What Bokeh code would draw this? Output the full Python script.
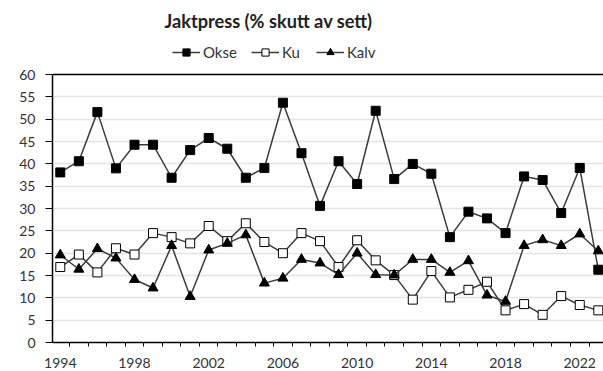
from bokeh.plotting import figure
from bokeh.models import Range1d, FixedTicker, Legend, LegendItem, Label, Span
from bokeh.embed import file_html
from bokeh.resources import INLINE

years = list(range(1994, 2024))
okse = [38.1, 40.6, 51.6, 39.0, 44.3, 44.3, 36.9, 43.1, 45.8, 43.4,
        36.9, 39.1, 53.7, 42.4, 30.6, 40.6, 35.5, 51.9, 36.6, 40.0,
        37.8, 23.6, 29.3, 27.8, 24.5, 37.2, 36.4, 29.0, 39.1, 16.3]
ku = [16.9, 19.7, 15.7, 21.1, 19.7, 24.5, 23.6, 22.2, 26.1, 22.7,
      26.7, 22.5, 20.0, 24.5, 22.7, 16.9, 22.9, 18.4, 15.1, 9.6,
      16.0, 10.1, 11.8, 13.6, 7.2, 8.6, 6.2, 10.4, 8.4, 7.2]
kalv = [19.6, 16.4, 21.0, 18.9, 14.1, 12.2, 21.7, 10.3, 20.7, 22.2,
        24.1, 13.3, 14.4, 18.6, 17.8, 15.2, 20.0, 15.2, 15.1, 18.6,
        18.6, 15.7, 18.3, 10.6, 9.2, 21.7, 23.0, 21.7, 24.3, 20.5]
tick_years = [1994, 1998, 2002, 2006, 2010, 2014, 2018, 2022]
y_ticks = list(range(0, 61, 5))
title_text = "Jaktpress (% skutt av sett)"
labels = ["Okse", "Ku", "Kalv"]

FONT = "Lato"

# frame spans from the top of the page down to the x axis; values above 60 hold title/legend
p = figure(width=603, height=371,
           x_range=Range1d(1993.58, 2023.28), y_range=Range1d(0, 76.6),
           output_backend="svg", toolbar_location=None,
           min_border_left=52, min_border_right=0,
           min_border_top=0, min_border_bottom=29)
p.outline_line_color = None
p.background_fill_color = "white"

# grid
p.xgrid.visible = False
p.ygrid.grid_line_color = "#e4e4e4"
p.ygrid.grid_line_width = 1.5
p.ygrid.ticker = FixedTicker(ticks=y_ticks)

# x axis
boundaries = [y - 0.5 for y in years]
xa = p.xaxis[0]
xa.ticker = FixedTicker(ticks=tick_years, minor_ticks=boundaries)
xa.major_tick_out = 0
xa.major_tick_in = 0
xa.minor_tick_out = 4
xa.minor_tick_in = 0
xa.minor_tick_line_color = "black"
xa.axis_line_color = "black"
xa.axis_line_width = 1.5
xa.major_label_text_font = FONT
xa.major_label_text_font_size = "14px"
xa.major_label_text_color = "#333333"
xa.major_label_standoff = 11

# y axis
ya = p.yaxis[0]
ya.ticker = FixedTicker(ticks=y_ticks)
ya.bounds = (y_ticks[0], y_ticks[-1])
ya.major_tick_out = 7
ya.major_tick_in = 0
ya.minor_tick_line_color = None
ya.axis_line_color = "black"
ya.axis_line_width = 1.5
ya.major_tick_line_color = "black"
ya.major_label_text_font = FONT
ya.major_label_text_font_size = "14px"
ya.major_label_text_color = "#333333"
ya.major_label_standoff = 10

# top border of plot area
p.add_layout(Span(location=y_ticks[-1], dimension="width",
                  line_color="black", line_width=1.5))

LINE = "#3c3c3c"
l1 = p.line(years, okse, line_color=LINE, line_width=1.5)
s1 = p.scatter(years, okse, marker="square", size=9, fill_color="black", line_color="black")
l2 = p.line(years, ku, line_color=LINE, line_width=1.5)
s2 = p.scatter(years, ku, marker="square", size=9, fill_color="white", line_color="black", line_width=1)
l3 = p.line(years, kalv, line_color=LINE, line_width=1.5)
s3 = p.scatter(years, kalv, marker="triangle", size=10, fill_color="black", line_color="black")

legend = Legend(items=[LegendItem(label=labels[0], renderers=[l1, s1]),
                       LegendItem(label=labels[1], renderers=[l2, s2]),
                       LegendItem(label=labels[2], renderers=[l3, s3])],
                orientation="horizontal", location=(120, 281),
                border_line_color=None, background_fill_alpha=0,
                padding=0, margin=0, spacing=14,
                glyph_width=28, glyph_height=18, label_standoff=3,
                label_text_font=FONT, label_text_font_size="15px",
                label_text_color="#333333")
p.add_layout(legend, "center")

p.add_layout(Label(x=216, y=322, x_units="screen", y_units="screen",
                   text=title_text, text_font=FONT, text_font_size="18.2px",
                   text_font_style="bold", text_color="#222222",
                   text_align="center", text_baseline="middle"))

open("out.html", "w").write(file_html(p, INLINE))
